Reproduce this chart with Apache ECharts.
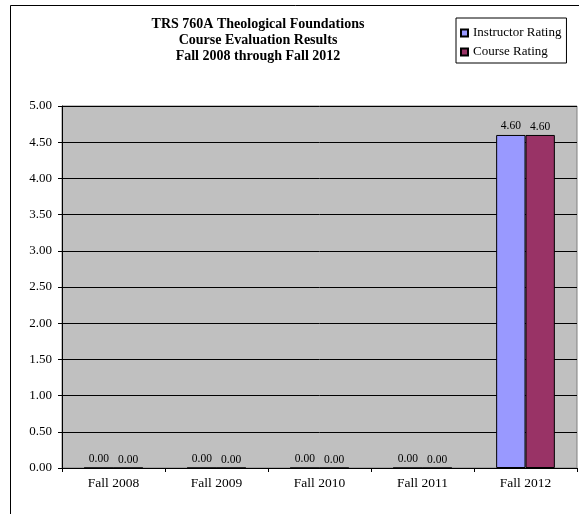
<!DOCTYPE html>
<html>
<head>
<meta charset="utf-8">
<script src="https://cdn.jsdelivr.net/npm/echarts@6/dist/echarts.min.js"></script>
<style>
  html, body { margin: 0; padding: 0; background: #fff; }
  #chart { width: 579px; height: 514px; }
</style>
</head>
<body>
<div id="chart"></div>
<script>
// Course evaluation averages per term
const terms = ['Fall 2008', 'Fall 2009', 'Fall 2010', 'Fall 2011', 'Fall 2012'];
const instructorRating = [0, 0, 0, 0, 4.60];
const courseRating = [0, 0, 0, 0, 4.60];
const titleLines = [
  'TRS 760A Theological Foundations',
  'Course Evaluation Results',
  'Fall 2008 through Fall 2012'
];

const serif = '"Liberation Serif", "Times New Roman", serif';
const chart = echarts.init(document.getElementById('chart'));

function valueLabel(distance) {
  return {
    show: true,
    position: 'top',
    distance: distance,
    fontFamily: serif,
    fontSize: 11.5,
    color: '#000',
    formatter: p => p.value.toFixed(2)
  };
}

chart.setOption({
  animation: false,
  backgroundColor: '#fff',
  title: {
    text: titleLines.join('\n'),
    left: 258,
    top: 16,
    textAlign: 'center',
    padding: 0,
    textStyle: {
      fontFamily: serif,
      fontWeight: 'bold',
      fontSize: 14,
      lineHeight: 16,
      color: '#000'
    }
  },
  legend: {
    orient: 'vertical',
    left: 456,
    top: 18,
    padding: [8, 5, 4, 4],
    itemGap: 5,
    itemWidth: 7,
    itemHeight: 7,
    icon: 'rect',
    backgroundColor: '#fff',
    borderColor: '#000',
    borderWidth: 1,
    textStyle: { fontFamily: serif, fontSize: 13, color: '#000', lineHeight: 14 },
    data: ['Instructor Rating', 'Course Rating']
  },
  graphic: [{
    type: 'rect',
    shape: { x: 10.5, y: 5.5, width: 600, height: 600 },
    style: { fill: 'none', stroke: '#000', lineWidth: 1 },
    silent: true,
    z: -1
  }],
  grid: {
    left: 62,
    right: 2,
    top: 106,
    bottom: 46,
    show: true,
    backgroundColor: '#C0C0C0',
    borderColor: '#808080',
    borderWidth: 1
  },
  xAxis: {
    type: 'category',
    data: terms,
    axisLine: { lineStyle: { color: '#000', width: 1 } },
    axisTick: { show: true, length: 4, lineStyle: { color: '#000' } },
    axisLabel: { fontFamily: serif, fontSize: 13.5, color: '#000', margin: 8 },
    splitLine: { show: false }
  },
  yAxis: {
    type: 'value',
    min: 0,
    max: 5,
    interval: 0.5,
    axisLine: { show: true, lineStyle: { color: '#000', width: 1 } },
    axisTick: { show: true, length: 4, lineStyle: { color: '#000' } },
    axisLabel: {
      fontFamily: serif, fontSize: 13, color: '#000', margin: 10,
      formatter: v => v.toFixed(2)
    },
    splitLine: { show: true, lineStyle: { color: '#000', width: 1 } }
  },
  series: [
    {
      name: 'Instructor Rating',
      type: 'bar',
      data: instructorRating,
      barGap: '0%',
      barCategoryGap: '43%',
      itemStyle: { color: '#9999FF', borderColor: '#000', borderWidth: 1 },
      label: valueLabel(3)
    },
    {
      name: 'Course Rating',
      type: 'bar',
      data: courseRating,
      itemStyle: { color: '#993366', borderColor: '#000', borderWidth: 1 },
      label: valueLabel(1.5)
    }
  ]
});
</script>
</body>
</html>
